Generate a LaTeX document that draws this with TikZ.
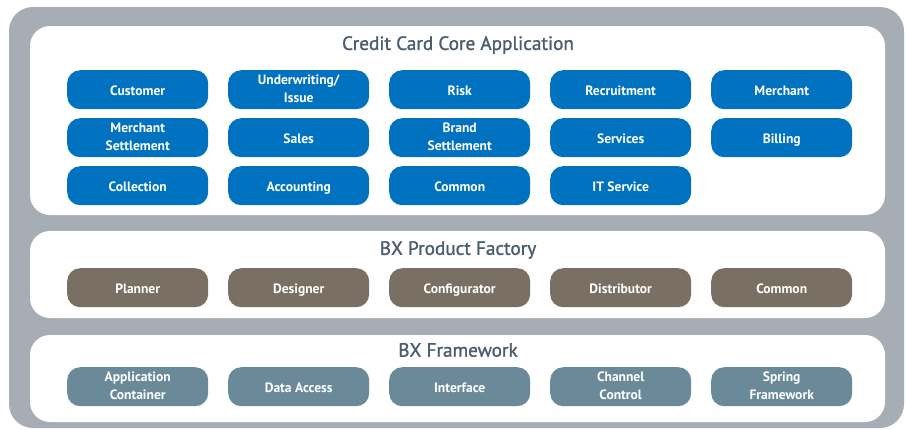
\documentclass[tikz,border=0pt]{standalone}
\usepackage{fontspec}
\setmainfont{PT Sans}
\newfontfamily\titlefont{PT Sans}[FakeBold=1.2]
\newcommand\modstrut{\rule[-2.5bp]{0pt}{16.5bp}}
\definecolor{outergray}{HTML}{A6ADB4}
\definecolor{bxblue}{HTML}{0072BF}
\definecolor{bxbrown}{HTML}{7A6F63}
\definecolor{bxslate}{HTML}{6B8A99}
\definecolor{titlecol}{HTML}{4B5C70}
\begin{document}
\begin{tikzpicture}[x=1bp,y=-1bp,
  panel/.style={fill=white,rounded corners=20bp},
  ptitle/.style={text=titlecol,font=\titlefont\fontsize{19.3}{21}\selectfont,anchor=center,inner sep=0},
  mod/.style={rounded corners=13bp,minimum width=141bp,minimum height=39bp,inner sep=0,
     text=white,font=\bfseries\fontsize{13.6}{18}\selectfont,align=center,anchor=north west,
     execute at begin node=\modstrut, execute at end node=\modstrut},
  bmod/.style={mod,fill=bxblue},
  rmod/.style={mod,fill=bxbrown},
  smod/.style={mod,fill=bxslate}]
\useasboundingbox (0,0) rectangle (906,429);
\fill[outergray,rounded corners=24bp] (9,7) rectangle (904,428);
\fill[panel] (30,26) rectangle (885,215);
\fill[panel] (30,231) rectangle (885,318);
\fill[panel] (30,335) rectangle (885,422);
\node[ptitle] (t1) at (458,45) {Credit Card Core Application};
\node[ptitle] (t2) at (458,250) {BX Product Factory};
\node[ptitle] (t3) at (458,350) {BX Framework};
% row 1
\node[bmod] (c11) at (67,70) {Customer};
\node[bmod] (c12) at (228,70) {Underwriting/\\Issue};
\node[bmod] (c13) at (389,70) {Risk};
\node[bmod] (c14) at (550,70) {Recruitment};
\node[bmod] (c15) at (711,70) {Merchant};
\node[bmod] (c21) at (67,118) {Merchant\\Settlement};
\node[bmod] (c22) at (228,118) {Sales};
\node[bmod] (c23) at (389,118) {Brand\\Settlement};
\node[bmod] (c24) at (550,118) {Services};
\node[bmod] (c25) at (711,118) {Billing};
\node[bmod] (c31) at (67,166) {Collection};
\node[bmod] (c32) at (228,166) {Accounting};
\node[bmod] (c33) at (389,166) {Common};
\node[bmod] (c34) at (550,166) {IT Service};
% product factory
\node[rmod] (p1) at (67,268) {Planner};
\node[rmod] (p2) at (228,268) {Designer};
\node[rmod] (p3) at (389,268) {Configurator};
\node[rmod] (p4) at (550,268) {Distributor};
\node[rmod] (p5) at (711,268) {Common};
% framework
\node[smod] (f1) at (67,367) {Application\\Container};
\node[smod] (f2) at (228,367) {Data Access};
\node[smod] (f3) at (389,367) {Interface};
\node[smod] (f4) at (550,367) {Channel\\Control};
\node[smod] (f5) at (711,367) {Spring\\Framework};
\end{tikzpicture}
\end{document}
